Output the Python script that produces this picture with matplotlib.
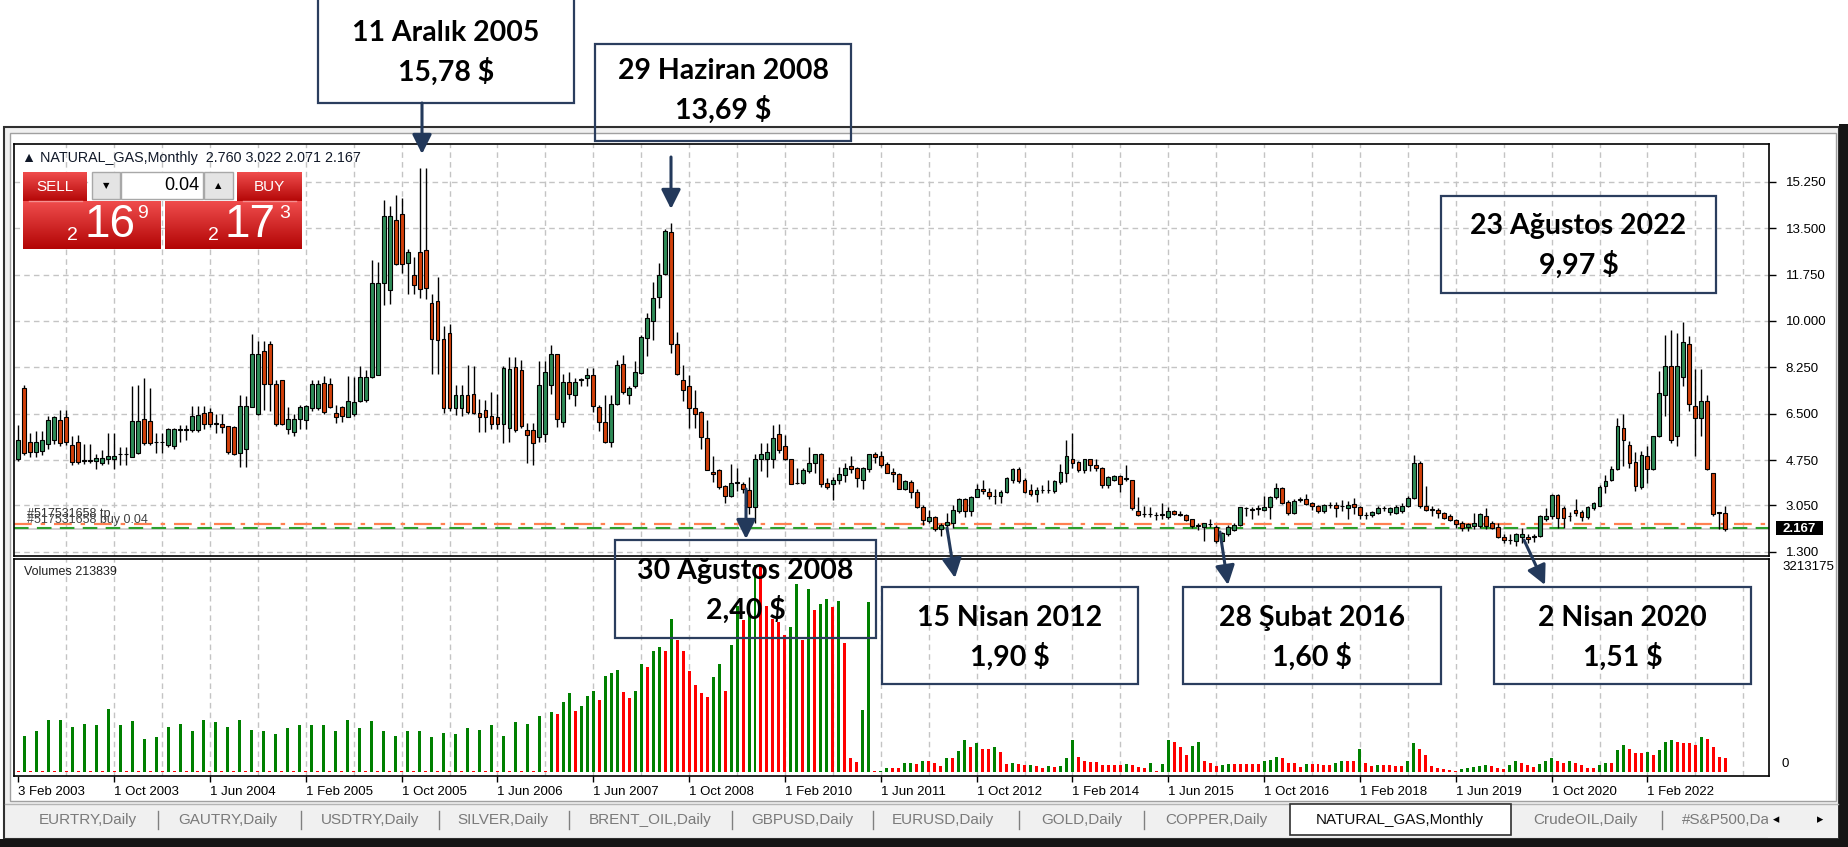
import numpy as np
import matplotlib.pyplot as plt
from matplotlib.patches import Rectangle, FancyArrowPatch

# ---- monthly NATURAL_GAS candles ----
opens = [
    4.78, 7.49, 5.42, 5.06, 5.10, 5.35, 5.50, 6.28, 6.38, 5.32,
    5.42, 4.76, 4.73, 4.73, 4.63, 4.78, 4.78, 4.97, 4.97, 4.88,
    5.03, 6.32, 6.22, 5.44, 5.43, 5.32, 5.28, 5.90, 5.90, 5.88,
    5.88, 6.53, 6.57, 6.14, 6.13, 6.04, 6.01, 5.03, 5.19, 6.76,
    6.48, 8.87, 9.12, 7.64, 7.76, 5.94, 5.82, 6.32, 6.28, 6.72,
    6.72, 7.66, 7.64, 6.53, 6.76, 6.38, 6.48, 6.99, 7.01, 7.89,
    7.95, 11.43, 11.18, 13.81, 14.04, 12.18, 11.75, 12.60, 12.66, 10.69,
    10.75, 9.33, 9.55, 6.73, 6.73, 7.22, 7.26, 6.53, 6.66, 6.41,
    6.38, 6.11, 5.98, 8.27, 8.16, 5.88, 5.88, 5.63, 5.73, 7.60,
    8.74, 6.19, 7.68, 7.20, 7.78, 7.85, 7.95, 6.76, 6.19, 5.44,
    6.85, 8.39, 7.20, 7.54, 8.05, 9.37, 10.01, 10.90, 11.78, 13.35,
    9.12, 7.79, 7.54, 6.70, 6.57, 5.57, 4.31, 4.37, 3.77, 3.40,
    3.90, 3.84, 3.62, 3.00, 4.81, 4.81, 4.81, 5.73, 5.28, 4.78,
    3.88, 3.90, 4.34, 4.63, 5.00, 3.90, 3.85, 4.00, 4.19, 4.53,
    4.44, 4.02, 4.40, 5.00, 4.90, 4.60, 4.31, 4.22, 3.68, 3.94,
    3.56, 3.00, 2.47, 2.62, 2.14, 2.30, 2.39, 2.84, 3.27, 2.84,
    3.37, 3.68, 3.56, 3.40, 3.40, 3.56, 4.00, 4.40, 4.00, 3.62,
    3.47, 3.62, 3.62, 3.60, 3.94, 4.25, 4.81, 4.69, 4.37, 4.78,
    4.56, 4.44, 3.81, 4.02, 4.15, 4.05, 4.00, 2.84, 2.72, 2.71,
    2.68, 2.68, 2.62, 2.84, 2.74, 2.68, 2.52, 2.27, 2.24, 2.34,
    2.24, 1.71, 1.97, 2.12, 2.30, 2.93, 2.89, 2.92, 2.89, 2.97,
    3.35, 3.72, 3.18, 2.77, 3.26, 3.27, 3.12, 3.02, 2.84, 3.06,
    3.06, 3.02, 2.93, 3.09, 3.00, 2.68, 2.68, 2.77, 2.93, 2.81,
    2.77, 2.84, 3.02, 3.33, 4.65, 3.02, 2.89, 2.89, 2.77, 2.64,
    2.49, 2.39, 2.24, 2.27, 2.27, 2.64, 2.37, 2.24, 1.86, 1.74,
    1.70, 1.86, 1.86, 1.86, 1.89, 2.52, 2.64, 3.42, 2.96, 2.64,
    2.89, 2.79, 2.62, 2.96, 3.04, 3.77, 4.02, 4.40, 5.97, 5.34,
    4.68, 3.75, 4.90, 4.40, 5.65, 7.19, 8.29, 5.65, 7.89, 9.14,
    6.81, 6.35, 6.97, 4.25, 2.77, 2.760,
]
highs = [
    6.07, 7.58, 5.76, 5.84, 5.86, 6.41, 6.43, 6.66, 6.66, 5.65,
    5.69, 5.35, 5.35, 4.98, 5.13, 5.78, 5.78, 5.23, 5.25, 7.54,
    7.60, 7.86, 7.49, 5.78, 5.78, 5.98, 5.98, 6.07, 6.07, 6.78,
    6.78, 6.78, 6.73, 6.48, 6.48, 6.05, 6.03, 7.20, 7.16, 9.50,
    9.24, 9.24, 9.24, 7.79, 7.79, 6.76, 6.51, 6.82, 6.82, 7.79,
    7.79, 7.91, 7.86, 6.82, 6.78, 7.91, 7.89, 8.29, 8.14, 12.28,
    12.22, 14.57, 14.35, 14.73, 14.64, 12.72, 12.41, 15.78, 15.78, 11.00,
    11.65, 9.82, 9.90, 7.60, 7.60, 8.33, 8.29, 7.07, 7.01, 7.32,
    7.24, 8.29, 8.64, 8.64, 8.54, 6.16, 6.16, 8.48, 8.48, 9.08,
    8.77, 8.01, 8.08, 7.85, 7.85, 8.23, 8.23, 6.82, 7.20, 7.20,
    8.52, 8.70, 7.54, 8.48, 9.48, 10.30, 11.47, 12.18, 13.47, 13.69,
    9.58, 8.32, 7.95, 7.41, 6.61, 6.28, 4.90, 4.40, 3.81, 4.60,
    4.44, 3.94, 4.12, 5.00, 5.38, 5.38, 6.07, 6.13, 5.69, 4.81,
    4.44, 4.44, 5.23, 5.00, 5.03, 4.06, 4.12, 4.50, 4.63, 4.90,
    4.50, 4.50, 5.00, 5.07, 5.10, 4.69, 4.44, 4.25, 4.00, 4.00,
    3.68, 3.06, 2.87, 2.64, 2.37, 2.77, 3.06, 3.31, 3.31, 3.40,
    3.87, 4.00, 3.72, 3.68, 3.62, 4.12, 4.44, 4.48, 4.06, 3.87,
    3.75, 3.81, 4.00, 4.02, 4.60, 5.50, 5.76, 4.73, 4.81, 4.81,
    4.81, 4.48, 4.15, 4.19, 4.21, 4.56, 4.02, 3.37, 3.02, 3.00,
    2.81, 3.12, 3.00, 2.89, 2.84, 2.72, 2.55, 2.37, 2.39, 2.52,
    2.30, 2.05, 2.30, 2.37, 2.99, 2.99, 2.97, 3.06, 3.40, 3.40,
    3.90, 3.75, 3.25, 3.27, 3.37, 3.47, 3.18, 3.06, 3.09, 3.18,
    3.18, 3.25, 3.22, 3.31, 3.02, 2.81, 2.84, 3.02, 3.02, 2.99,
    3.06, 3.12, 3.40, 4.96, 4.71, 3.77, 3.02, 2.96, 2.79, 2.71,
    2.54, 2.45, 2.39, 2.77, 2.77, 2.96, 2.45, 2.39, 1.95, 1.95,
    2.02, 2.20, 1.95, 1.95, 2.67, 2.96, 3.46, 3.46, 3.02, 2.79,
    3.30, 2.89, 3.04, 3.17, 3.80, 4.21, 4.53, 6.35, 6.51, 5.47,
    5.05, 5.09, 5.28, 5.68, 8.10, 9.48, 9.67, 9.55, 9.97, 9.42,
    8.19, 8.19, 7.22, 4.27, 2.79, 3.022,
]
lows = [
    4.73, 4.94, 4.88, 4.88, 4.94, 5.19, 5.35, 5.28, 5.32, 4.56,
    4.60, 4.60, 4.63, 4.40, 4.56, 4.60, 4.40, 4.56, 4.56, 4.86,
    5.00, 5.32, 5.32, 5.03, 5.03, 5.25, 5.19, 5.44, 5.50, 5.82,
    5.82, 5.91, 6.01, 5.78, 5.78, 5.00, 4.94, 4.50, 4.48, 6.76,
    6.45, 6.66, 6.61, 6.03, 6.07, 5.73, 5.65, 5.91, 5.94, 6.61,
    6.63, 6.51, 6.70, 6.16, 6.19, 6.36, 6.41, 6.95, 6.95, 7.86,
    7.95, 10.59, 10.62, 12.09, 11.80, 11.00, 11.00, 10.88, 10.84, 7.99,
    8.01, 6.53, 6.61, 6.45, 6.41, 6.51, 6.48, 5.82, 5.82, 5.94,
    5.94, 5.40, 5.44, 5.82, 5.98, 4.63, 4.56, 5.44, 5.44, 7.26,
    6.01, 6.01, 7.04, 6.78, 7.54, 7.54, 6.57, 5.86, 5.38, 5.25,
    6.82, 7.26, 6.88, 7.49, 8.01, 8.67, 9.27, 10.50, 11.72, 8.79,
    7.95, 6.99, 5.98, 5.98, 5.19, 4.37, 3.94, 3.65, 3.12, 3.35,
    3.60, 3.52, 2.74, 2.40, 4.35, 4.12, 4.44, 5.03, 4.75, 3.85,
    3.85, 3.87, 4.25, 4.25, 3.75, 3.68, 3.25, 3.87, 3.94, 4.25,
    3.75, 3.68, 4.31, 4.65, 4.50, 4.25, 3.94, 3.65, 3.62, 3.31,
    2.93, 2.30, 2.37, 2.09, 1.90, 2.18, 2.18, 2.77, 2.62, 2.64,
    3.35, 3.47, 3.27, 3.09, 3.14, 3.52, 3.90, 3.90, 3.52, 3.40,
    3.18, 3.52, 3.52, 3.52, 3.87, 3.94, 4.44, 4.31, 4.25, 4.35,
    4.35, 3.72, 3.72, 3.97, 3.56, 3.97, 2.89, 2.64, 2.59, 2.59,
    2.49, 2.55, 2.52, 2.68, 2.64, 2.47, 2.18, 2.12, 1.71, 2.24,
    1.61, 1.68, 1.89, 2.09, 2.27, 2.64, 2.52, 2.68, 2.84, 2.55,
    3.27, 3.09, 2.68, 2.72, 3.18, 3.06, 2.89, 2.77, 2.77, 2.93,
    2.62, 2.84, 2.55, 2.72, 2.55, 2.55, 2.62, 2.72, 2.84, 2.68,
    2.72, 2.77, 3.00, 3.30, 2.96, 2.83, 2.64, 2.58, 2.52, 2.45,
    2.20, 2.08, 2.08, 2.14, 2.20, 2.17, 2.14, 1.83, 1.64, 1.58,
    1.51, 1.64, 1.64, 1.67, 1.86, 2.45, 2.52, 2.20, 2.20, 2.45,
    2.64, 2.45, 2.54, 2.89, 3.02, 3.52, 3.96, 4.37, 4.53, 4.46,
    3.58, 3.65, 3.90, 4.37, 5.63, 6.43, 5.40, 5.30, 7.54, 6.60,
    4.90, 5.65, 4.37, 2.64, 2.14, 2.071,
]
closes = [
    5.50, 5.03, 5.06, 5.44, 5.53, 6.28, 6.36, 5.38, 5.44, 4.69,
    4.69, 4.73, 4.72, 4.84, 4.85, 4.90, 4.90, 4.98, 4.98, 6.22,
    6.22, 5.38, 5.38, 5.43, 5.44, 5.94, 5.94, 5.91, 5.91, 6.41,
    6.47, 6.13, 6.13, 6.13, 6.01, 5.06, 5.00, 6.78, 6.78, 8.74,
    8.74, 7.64, 7.64, 6.13, 6.13, 6.32, 6.32, 6.76, 6.78, 7.64,
    7.64, 6.57, 6.76, 6.36, 6.41, 6.99, 6.95, 7.89, 7.89, 11.43,
    11.43, 13.94, 13.94, 12.13, 12.13, 12.60, 11.34, 11.21, 11.24, 9.33,
    9.27, 6.73, 6.70, 7.20, 7.22, 6.57, 6.53, 6.36, 6.36, 6.11,
    6.11, 8.24, 8.20, 5.88, 6.04, 5.69, 5.38, 7.60, 8.06, 8.77,
    6.32, 7.68, 7.26, 7.70, 7.79, 7.95, 6.78, 6.19, 5.44, 6.85,
    8.33, 7.32, 7.49, 8.06, 9.39, 10.12, 10.86, 11.75, 13.39, 9.12,
    8.01, 7.41, 6.73, 6.48, 5.63, 4.37, 4.22, 3.75, 3.40, 3.90,
    3.91, 3.68, 3.00, 4.78, 5.00, 5.07, 5.57, 5.15, 4.81, 3.87,
    3.90, 4.37, 4.63, 4.98, 3.85, 3.75, 4.02, 4.22, 4.44, 4.40,
    4.06, 4.44, 4.98, 4.88, 4.56, 4.27, 4.22, 3.68, 3.97, 3.56,
    3.00, 2.49, 2.62, 2.14, 2.30, 2.43, 2.87, 3.27, 2.84, 3.35,
    3.68, 3.60, 3.40, 3.39, 3.56, 4.06, 4.40, 3.97, 3.56, 3.47,
    3.62, 3.63, 3.63, 3.97, 4.31, 4.90, 4.63, 4.37, 4.78, 4.56,
    4.44, 3.81, 4.10, 4.15, 3.87, 4.06, 2.93, 2.68, 2.71, 2.72,
    2.67, 2.74, 2.84, 2.72, 2.68, 2.49, 2.27, 2.28, 2.37, 2.33,
    1.71, 1.99, 2.22, 2.30, 2.97, 2.94, 2.90, 2.94, 3.00, 3.35,
    3.72, 3.12, 2.77, 3.22, 3.27, 3.09, 3.02, 2.84, 3.06, 3.05,
    2.93, 3.03, 3.06, 3.00, 2.68, 2.67, 2.81, 2.93, 2.94, 2.93,
    3.00, 3.02, 3.31, 4.65, 3.02, 2.89, 2.88, 2.77, 2.58, 2.49,
    2.33, 2.20, 2.33, 2.39, 2.71, 2.27, 2.20, 1.86, 1.74, 1.73,
    1.95, 1.95, 1.79, 1.87, 2.64, 2.64, 3.42, 2.58, 2.58, 2.65,
    2.77, 2.62, 2.99, 3.12, 3.75, 3.96, 4.42, 6.03, 5.53, 4.65,
    3.77, 4.93, 4.40, 5.65, 7.29, 8.29, 5.53, 8.29, 9.19, 6.85,
    6.35, 6.97, 4.40, 2.71, 2.76, 2.167,
]
volumes = [
    14000, 565000, 14000, 632000, 14000, 814000, 14000, 814000, 14000, 704000,
    14000, 748000, 14000, 731000, 14000, 981000, 14000, 731000, 14000, 798000,
    14000, 510000, 14000, 537000, 14000, 704000, 14000, 748000, 14000, 632000,
    14000, 814000, 14000, 770000, 14000, 704000, 14000, 814000, 14000, 648000,
    14000, 632000, 14000, 587000, 14000, 676000, 14000, 726000, 14000, 726000,
    14000, 726000, 14000, 632000, 14000, 814000, 14000, 676000, 14000, 798000,
    14000, 632000, 14000, 565000, 14000, 632000, 14000, 632000, 14000, 537000,
    14000, 609000, 14000, 587000, 14000, 676000, 14000, 659000, 14000, 726000,
    14000, 565000, 14000, 770000, 14000, 748000, 14000, 864000, 14000, 936000,
    897000, 1091000, 1230000, 953000, 1030000, 1186000, 1258000, 1119000, 1496000, 1535000,
    1590000, 1241000, 1147000, 1258000, 1673000, 1634000, 1884000, 1939000, 1884000, 2382000,
    2050000, 1884000, 1562000, 1352000, 1219000, 1158000, 1479000, 1684000, 1258000, 1967000,
    2576000, 2355000, 2449000, 3213175, 3197000, 2576000, 2382000, 2327000, 2127000, 2249000,
    2920000, 2050000, 2848000, 2521000, 2615000, 2681000, 2559000, 2659000, 2005000, 222000,
    150000, 960000, 2637000, 10000, 22000, 66000,
    66000, 66000, 133000, 144000, 122000, 166000, 166000, 133000, 94000, 211000,
    211000, 327000, 493000, 382000, 443000, 355000, 355000, 382000, 305000, 122000,
    139000, 122000, 105000, 111000, 89000, 66000, 94000, 78000, 94000, 211000,
    493000, 233000, 166000, 150000, 150000, 105000, 105000, 105000, 105000, 122000,
    111000, 83000, 66000, 139000, 22000, 122000, 493000, 471000, 382000, 260000,
    399000, 471000, 166000, 139000, 94000, 111000, 122000, 122000, 122000, 122000,
    122000, 122000, 166000, 188000, 233000, 211000, 139000, 139000, 83000, 122000,
    122000, 122000, 105000, 105000, 139000, 166000, 166000, 166000, 355000, 139000,
    94000, 105000, 105000, 105000, 94000, 94000, 166000, 443000, 355000, 260000,
    94000, 66000, 39000, 28000, 22000, 50000, 66000, 78000, 94000, 105000,
    94000, 66000, 50000, 105000, 166000, 133000, 111000, 83000, 122000, 177000,
    216000, 166000, 139000, 166000, 139000, 111000, 66000, 66000, 105000, 139000,
    139000, 343000, 416000, 355000, 288000, 288000, 305000, 260000, 343000, 465000,
    493000, 465000, 454000, 443000, 416000, 537000, 510000, 382000, 233000, 213839,
]

price_ticks = [1.3, 3.05, 4.75, 6.5, 8.25, 10.0, 11.75, 13.5, 15.25]
date_labels = ['3 Feb 2003', '1 Oct 2003', '1 Jun 2004', '1 Feb 2005', '1 Oct 2005',
               '1 Jun 2006', '1 Jun 2007', '1 Oct 2008', '1 Feb 2010', '1 Jun 2011',
               '1 Oct 2012', '1 Feb 2014', '1 Jun 2015', '1 Oct 2016', '1 Feb 2018',
               '1 Jun 2019', '1 Oct 2020', '1 Feb 2022']
tabs = ['EURTRY,Daily', 'GAUTRY,Daily', 'USDTRY,Daily', 'SILVER,Daily', 'BRENT_OIL,Daily',
        'GBPUSD,Daily', 'EURUSD,Daily', 'GOLD,Daily', 'COPPER,Daily', 'NATURAL_GAS,Monthly',
        'CrudeOIL,Daily', '#S&P500,Dai']
notes = [('11 Aralık 2005', '15,78 $'), ('29 Haziran 2008', '13,69 $'),
         ('23 Ağustos 2022', '9,97 $'), ('30 Ağustos 2008', '2,40 $'),
         ('15 Nisan 2012', '1,90 $'), ('28 Şubat 2016', '1,60 $'), ('2 Nisan 2020', '1,51 $')]
bid, order_price, tp_price = 2.167, 2.20, 2.34

W, H = 1849, 847
UI = ['Liberation Sans', 'DejaVu Sans']
NOTE = ['Lato', 'DejaVu Sans']

fig = plt.figure(figsize=(W / 100, H / 100), dpi=100)


def frac(x0, y0, x1, y1):
    return [x0 / W, 1 - y1 / H, (x1 - x0) / W, (y1 - y0) / H]


# window background
bg = fig.add_axes([0, 0, 1, 1], zorder=0)
bg.set_xlim(0, W); bg.set_ylim(H, 0); bg.axis('off')
bg.add_patch(Rectangle((4, 127), 1835, 712, facecolor='#F0F0F0', edgecolor='#303030', lw=1.5))
bg.add_patch(Rectangle((10, 133), 1826, 668, facecolor='white', edgecolor='#A0A0A0', lw=1))
bg.add_patch(Rectangle((1839, 124), 10, 723, facecolor='#151515', edgecolor='none'))
bg.add_patch(Rectangle((0, 839), W, 8, facecolor='#151515', edgecolor='none'))

x = np.arange(len(opens))
o, hi, lo, c = (np.array(a) for a in (opens, highs, lows, closes))
up = c >= o
grid_kw = dict(color='#C4C4C4', lw=1, ls=(0, (4, 3)), zorder=0)

# price panel
ax = fig.add_axes(frac(14, 144, 1769, 555.5), zorder=2)
ax.set_xlim(-0.72, 292.3)
ax.set_ylim(1.157, 16.67)
for b in range(8, 292, 8):
    ax.axvline(b, **grid_kw)
for p in price_ticks:
    ax.axhline(p, **grid_kw)
ax.axhline(bid, color='#C8C8C8', lw=1.2, zorder=1)
ax.axhline(order_price, color='#2CA02C', lw=1.5, ls=(0, (7, 4)), zorder=1)
ax.axhline(tp_price, color='#FF8050', lw=1.6, ls=(0, (8, 4, 2, 4)), zorder=1)
ax.vlines(x, lo, hi, color='black', lw=1, zorder=2)
body_lo = np.minimum(o, c)
body_h = np.maximum(np.abs(c - o), 0.02)
ax.bar(x[up], body_h[up], bottom=body_lo[up], width=0.64, color='#2E8B57',
       edgecolor='black', lw=0.8, zorder=3)
ax.bar(x[~up], body_h[~up], bottom=body_lo[~up], width=0.64, color='#D2400A',
       edgecolor='black', lw=0.8, zorder=3)
ax.set_xticks([])
ax.yaxis.tick_right()
ax.set_yticks(price_ticks)
ax.set_yticklabels([f'{p:.3f}' for p in price_ticks], family=UI, fontsize=9.5)
ax.tick_params(axis='y', length=5, width=1, pad=7, colors='black')
for s in ax.spines.values():
    s.set_color('black'); s.set_linewidth(1.2)

# volume panel
vax = fig.add_axes(frac(14, 558.5, 1769, 776), zorder=2)
vax.set_xlim(-0.72, 292.3)
vax.set_ylim(-62000, 3314000)
vol = np.array(volumes)
vcol = ['#FF0000'] + ['#008000' if vol[i] > vol[i - 1] else '#FF0000' for i in range(1, len(vol))]
for b in range(8, 292, 8):
    vax.axvline(b, **grid_kw)
vax.bar(x, vol, width=0.5, color=vcol, zorder=2)
vax.set_yticks([])
vax.set_xticks(np.arange(0, 16 * len(date_labels), 16))
vax.set_xticklabels(date_labels, family=UI, fontsize=9.5, ha='left')
vax.tick_params(axis='x', length=4, width=1, pad=3, colors='black')
for s in vax.spines.values():
    s.set_color('black'); s.set_linewidth(1.2)

# overlay: texts, widgets, annotations
ov = fig.add_axes([0, 0, 1, 1], zorder=5)
ov.patch.set_alpha(0)


def red_block(x0, y0, x1, y1):
    g = np.linspace(0, 1, 64)[:, None, None]
    top = np.array([0.94, 0.30, 0.30]); bot = np.array([0.70, 0.02, 0.02])
    img = np.repeat(top + (bot - top) * g, 2, axis=1)
    ov.imshow(img, extent=(x0, x1, y1, y0), aspect='auto', interpolation='bilinear', zorder=6)


ov.text(22, 158, '▲ NATURAL_GAS,Monthly  2.760 3.022 2.071 2.167', family=UI,
        fontsize=10.3, color='#101828', va='center')
ov.text(24, 572, 'Volumes 213839', family=UI, fontsize=9, color='#202020', va='center')
ov.text(1782, 567, '3213175', family=UI, fontsize=9.5, va='center')
ov.text(1782, 764, '0', family=UI, fontsize=9.5, va='center')
ov.text(27, 514, '#517531658 tp', family=UI, fontsize=9, color='#303030', va='center')
ov.text(27, 520, '#517531658 buy 0.04', family=UI, fontsize=9, color='#404040', va='center')
ov.add_patch(Rectangle((1776, 521.5), 47, 14, facecolor='black', edgecolor='none', zorder=6))
ov.text(1799.5, 528.5, f'{bid:.3f}', family=UI, fontsize=9.5, weight='bold',
        color='white', ha='center', va='center', zorder=7)

# one-click trading widget
red_block(23, 172, 87, 202); red_block(23, 201, 161, 249)
red_block(237, 172, 302, 202); red_block(165, 201, 302, 249)
ov.plot([29, 82], [201, 201], color='#F49090', lw=1, zorder=7)
ov.plot([243, 296], [201, 201], color='#F49090', lw=1, zorder=7)
for bx, bw, fc in [(92, 28, '#E4E4E4'), (121, 82, 'white'), (204, 29, '#E4E4E4')]:
    ov.add_patch(Rectangle((bx, 172), bw, 27, facecolor=fc, edgecolor='#A8A8A8', lw=1, zorder=6))
ov.text(106, 185.5, '▼', fontsize=6, ha='center', va='center', zorder=7)
ov.text(218, 185.5, '▲', fontsize=6, ha='center', va='center', zorder=7)
ov.text(199, 186, '0.04', family=UI, fontsize=13, ha='right', va='center', zorder=7)
ov.text(55, 187, 'SELL', family=UI, fontsize=11, color='white', ha='center', va='center', zorder=7)
ov.text(269, 187, 'BUY', family=UI, fontsize=11, color='white', ha='center', va='center', zorder=7)
for x2, xbig, xsup, big, sup in [(72, 110, 143, '16', '9'), (213, 250, 285, '17', '3')]:
    ov.text(x2, 236, '2', family=UI, fontsize=14, color='white', ha='center', va='center', zorder=7)
    ov.text(xbig, 225, big, family=UI, fontsize=33, color='white', ha='center', va='center', zorder=7)
    ov.text(xsup, 213, sup, family=UI, fontsize=14, color='white', ha='center', va='center', zorder=7)

# tab bar
ov.plot([5, 1838], [804, 804], color='#B4B4B4', lw=1, zorder=6)
ov.add_patch(Rectangle((1290, 804), 221, 31, facecolor='white', edgecolor='#303030', lw=1.2, zorder=6))
tab_x = [88, 228, 370, 503, 650, 802, 943, 1082, 1216, 1400, 1585, 1728]
sep_x = [158, 301, 439, 569, 732, 873, 1019, 1144, 1662]
for tx, name in zip(tab_x, tabs):
    active = name.startswith('NATURAL')
    ov.text(tx, 820, name, family=UI, fontsize=11, ha='center', va='center', zorder=7,
            color='#101010' if active else '#7A7A7A')
for sx in sep_x:
    ov.plot([sx, sx], [811, 829], color='#808080', lw=1, zorder=6)
ov.add_patch(Rectangle((1768, 806), 70, 32, facecolor='#F0F0F0', edgecolor='none', zorder=7))
ov.text(1776, 820, '◂', fontsize=9, ha='center', va='center', zorder=8)
ov.text(1820, 820, '▸', fontsize=9, ha='center', va='center', zorder=8)

# annotation boxes
boxes = [(318, -5, 574, 103), (595, 44, 851, 141), (1441, 196, 1716, 293), (615, 540, 876, 638),
         (882, 587, 1138, 684), (1183, 587, 1441, 684), (1494, 587, 1751, 684)]
line1_y = [33, 71, 226, 571, 618, 618, 618]
for (x0, y0, x1, y1), (t1, t2), ly in zip(boxes, notes, line1_y):
    ov.add_patch(Rectangle((x0, y0), x1 - x0, y1 - y0, fill=False, edgecolor='#2B3E5E', lw=1.6, zorder=8))
    xm = (x0 + x1) / 2
    ov.text(xm, ly, t1, family=NOTE, weight='bold', fontsize=20.5, ha='center', va='center', zorder=9)
    ov.text(xm, ly + 39, t2, family=NOTE, weight='bold', fontsize=20.5, ha='center', va='center', zorder=9)

arrows = [((422, 103), (422, 154)), ((671, 157), (671, 209)), ((746, 489), (746, 539)),
          ((947, 528), (955, 578)), ((1220, 532), (1228, 585)), ((1524, 540), (1545, 585))]
for a0, a1 in arrows:
    ov.add_patch(FancyArrowPatch(a0, a1, arrowstyle='-|>,head_length=0.9,head_width=0.45',
                                 mutation_scale=13, lw=2.2, color='#23395B', zorder=9,
                                 shrinkA=0, shrinkB=0))

ov.set_xlim(0, W); ov.set_ylim(H, 0); ov.axis('off')

fig.savefig('out.png', dpi=100, facecolor='white')
